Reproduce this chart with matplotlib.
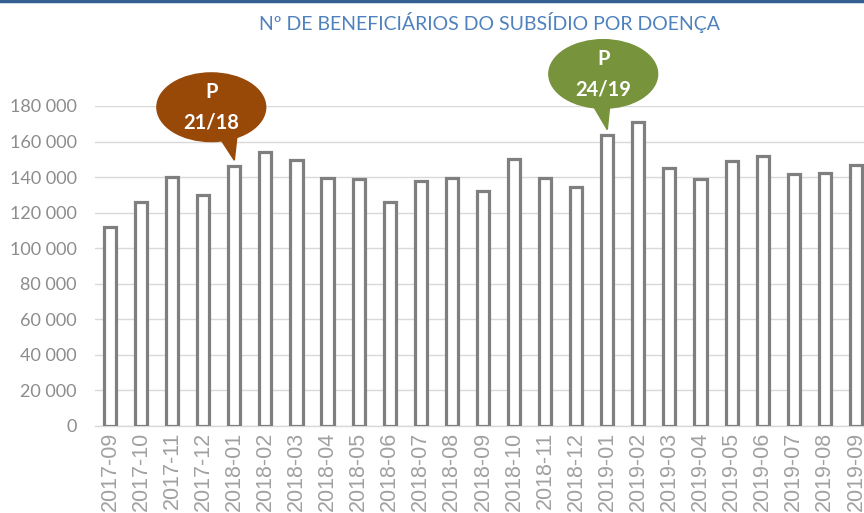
import numpy as np
import matplotlib.pyplot as plt
from matplotlib.patches import Ellipse, Polygon
from matplotlib.lines import Line2D

# data
months = ["2017-09", "2017-10", "2017-11", "2017-12", "2018-01", "2018-02",
          "2018-03", "2018-04", "2018-05", "2018-06", "2018-07", "2018-08",
          "2018-09", "2018-10", "2018-11", "2018-12", "2019-01", "2019-02",
          "2019-03", "2019-04", "2019-05", "2019-06", "2019-07", "2019-08",
          "2019-09"]
beneficiarios = [112000, 125800, 140100, 129700, 146500, 154300,
                 149600, 139400, 139000, 126000, 138000, 139600,
                 132200, 150000, 139300, 134600, 163700, 171200,
                 145000, 139100, 149000, 151900, 141600, 142100,
                 146800]
y_ticks = list(range(0, 180001, 20000))
callout_months = ["2018-01", "2019-01"]
callout_labels = ["P\n21/18", "P\n24/19"]
callout_colors = ["#984807", "#77933C"]

title = "Nº DE BENEFICIÁRIOS DO SUBSÍDIO POR DOENÇA"

fig = plt.figure(figsize=(8.64, 5.13), dpi=100)
ax = fig.add_axes([0.110, 0.1696, 0.890, 0.6238])

x = np.arange(len(months))
ax.bar(x, beneficiarios, width=0.39, color="white", edgecolor="#7F7F7F",
       linewidth=2.3, zorder=3)

ax.set_xlim(-0.48, len(months) - 1 + 0.26)
ax.set_ylim(0, 180000)
ax.set_yticks(y_ticks)
ax.set_yticklabels([f"{v:,}".replace(",", " ") for v in y_ticks],
                   fontsize=13, color="#8C8C8C", family=["Lato", "DejaVu Sans"])
ax.set_xticks(x)
ax.set_xticklabels(months, rotation=90, fontsize=15.5, color="#A0A0A0",
                   family=["Liberation Sans", "DejaVu Sans"])
ax.tick_params(axis="y", length=0, pad=13)
ax.tick_params(axis="x", length=0, pad=4)
ax.grid(axis="y", color="#D9D9D9", linewidth=1, zorder=0)
for s in ["top", "right", "left"]:
    ax.spines[s].set_visible(False)
ax.spines["bottom"].set_color("#D9D9D9")
ax.spines["bottom"].set_linewidth(1)

# speech-bubble callouts
for m, lab, col, dx, dy in zip(callout_months, callout_labels, callout_colors,
                               [-0.74, -0.13], [32800, 34300]):
    i = months.index(m)
    v = beneficiarios[i]
    cx, cy = i + dx, v + dy
    ell = Ellipse((cx, cy), 3.5, 38600, color=col, clip_on=False, zorder=5)
    ax.add_patch(ell)
    tail = Polygon([(i - 0.55, cy - 15000), (i + 0.1, cy - 14000),
                    (i, v + 3000)], closed=True, color=col, clip_on=False,
                   zorder=5)
    ax.add_patch(tail)
    ax.text(cx, cy, lab, ha="center", va="center", color="white",
            fontsize=14.5, fontweight="bold", linespacing=1.65,
            family=["Lato", "DejaVu Sans"], zorder=6)

fig.text(0.567, 0.957, title, ha="center", va="center", fontsize=14,
         color="#4F81BD", family=["Liberation Sans Narrow", "Lato", "DejaVu Sans"])

# dark line along the top edge
fig.add_artist(Line2D([0, 1], [0.998, 0.998], transform=fig.transFigure,
                      color="#365F91", linewidth=2.5))

fig.savefig("out.png", dpi=100)
